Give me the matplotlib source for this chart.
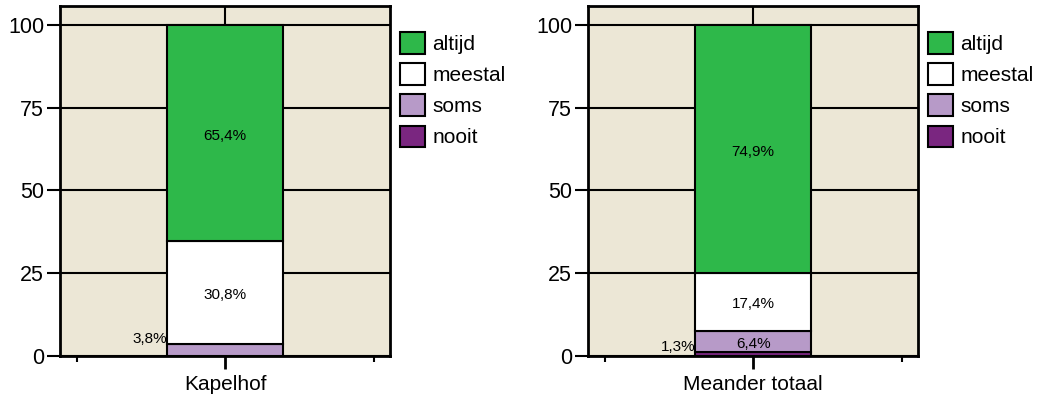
import numpy as np
import matplotlib.pyplot as plt
from matplotlib.patches import Patch

plt.rcParams['font.family'] = ['Liberation Sans', 'DejaVu Sans']

# data
groups = ["Kapelhof", "Meander totaal"]
categories = ["nooit", "soms", "meestal", "altijd"]
kapelhof = [0.0, 3.8, 30.8, 65.4]
meander = [1.3, 6.4, 17.4, 74.9]
values = [kapelhof, meander]

colors = {"nooit": "#7A2680", "soms": "#B79AC8", "meestal": "#FFFFFF", "altijd": "#2EB84A"}
bg = "#ECE7D6"

fig = plt.figure(figsize=(10.38, 4.01), dpi=100)
axes = [fig.add_axes([0.0578, 0.112, 0.318, 0.873]),
        fig.add_axes([0.5665, 0.112, 0.318, 0.873])]

bar_w = 0.70
for ax, name, vals in zip(axes, groups, values):
    ax.set_facecolor(bg)
    ax.set_axisbelow(True)
    ax.grid(True, color="black", linewidth=1.5)
    bottom = 0.0
    for cat, v in zip(categories, vals):
        if v > 0:
            ax.bar(0, v, width=bar_w, bottom=bottom, color=colors[cat],
                   edgecolor="black", linewidth=1.5, zorder=2)
            lab = f"{v:.1f}%".replace(".", ",")
            if v >= 5:
                ax.text(0, bottom + v / 2 - 0.8, lab, ha="center", va="center",
                        fontsize=11, zorder=3)
            else:
                ax.text(-bar_w / 2, bottom + v - 0.8, lab, ha="right", va="bottom",
                        fontsize=11, zorder=3)
        bottom += v
    ax.set_xlim(-1, 1)
    ax.set_ylim(0, 105.7)
    ax.set_xticks([0])
    ax.set_xticklabels([name], fontsize=15)
    ax.set_xticks([-0.9, 0.9], minor=True)
    ax.set_yticks([0, 25, 50, 75, 100])
    ax.tick_params(axis="y", labelsize=15.5, length=9.5, width=1.5, pad=2)
    ax.tick_params(axis="x", which="major", length=9.5, width=2, pad=4)
    ax.tick_params(axis="x", which="minor", length=4.5, width=1.5)
    for s in ax.spines.values():
        s.set_linewidth(2)

    handles = [Patch(facecolor=colors[c], edgecolor="black", linewidth=1.5)
               for c in categories[::-1]]
    ax.legend(handles, categories[::-1], loc="upper left", bbox_to_anchor=(1.03, 0.925),
              frameon=False, fontsize=15, handlelength=1.2, handleheight=1.2,
              handletextpad=0.35, labelspacing=0.45, borderaxespad=0, borderpad=0)

fig.savefig("out.png", dpi=100)
